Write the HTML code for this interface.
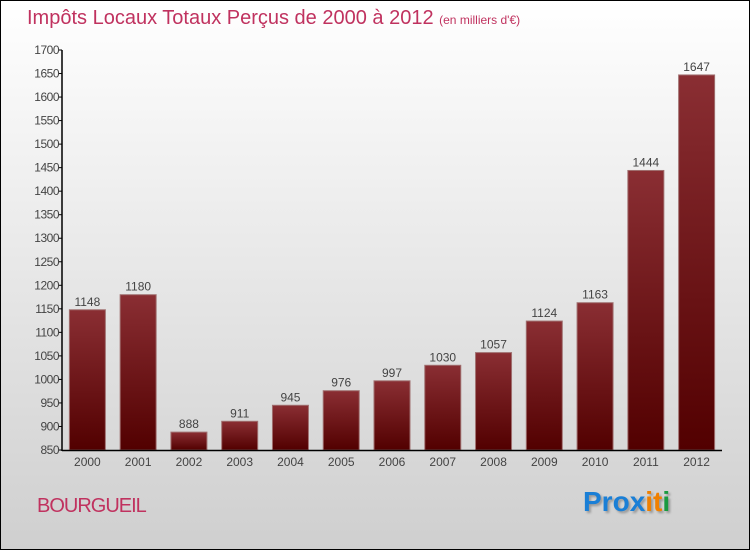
<!DOCTYPE html>
<html><head><meta charset="utf-8"><style>
body{margin:0}
#c{position:relative;width:748px;height:548px;border:1px solid #000;background:linear-gradient(#ffffff,#cfcfcf);overflow:hidden;font-family:"Liberation Sans",sans-serif}
.t{position:absolute;white-space:nowrap}
</style></head><body>
<div id="c">
<div class="t" style="left:26px;top:6px;font-size:20px;color:#c0325f">Impôts Locaux Totaux Perçus de 2000 à 2012 <span style="font-size:12px">(en milliers d'€)</span></div>
<svg id="s" width="748" height="548" style="position:absolute;left:0;top:0">
<defs><linearGradient id="g" x1="0" y1="0" x2="0" y2="1"><stop offset="0" stop-color="#8a2e33"/><stop offset="1" stop-color="#520000"/></linearGradient></defs>
</svg>
<div class="t" style="left:36px;top:494px;font-size:20px;color:#c0325f;letter-spacing:-1px">BOURGUEIL</div>
<div class="t" style="left:582px;top:485px;font-size:28px;font-weight:bold;text-shadow:2px 2px 2px #999"><span style="color:#1a7fd6">Pro</span><span style="color:#1a7fd6">x</span><span style="color:#f08000">i</span><span style="color:#f08000">t</span><span style="color:#1a9a40">i</span></div>
</div>
<script>
const categories=["2000","2001","2002","2003","2004","2005","2006","2007","2008","2009","2010","2011","2012"];
const values=[1148,1180,888,911,945,976,997,1030,1057,1124,1163,1444,1647];
const ticks=[850,900,950,1000,1050,1100,1150,1200,1250,1300,1350,1400,1450,1500,1550,1600,1650,1700];
const s=document.getElementById('s');const NS='http://www.w3.org/2000/svg';
const x0=61,x1=721,yb=449,yt=49,vmin=850,vmax=1700;
const y=v=>yb-(v-vmin)/(vmax-vmin)*(yb-yt);
const band=(x1-x0)/categories.length;
const cx=i=>x0+band*(i+0.5);
function mk(t,a){const e=document.createElementNS(NS,t);for(const k in a)e.setAttribute(k,a[k]);s.appendChild(e);return e;}
values.forEach((v,i)=>{
const r=mk('rect',{x:cx(i)-18,y:y(v),width:36,height:yb-y(v),fill:'url(#g)',stroke:'#a07070','stroke-width':1});


const t=mk('text',{x:cx(i),y:y(v)-4,'text-anchor':'middle','font-size':12,fill:'#444','font-family':'Liberation Sans, sans-serif'});t.textContent=v;


const l=mk('text',{x:cx(i),y:yb+16,'text-anchor':'middle','font-size':12,fill:'#444','font-family':'Liberation Sans, sans-serif'});l.textContent=categories[i];


});
ticks.forEach(v=>{
mk('line',{x1:x0-4,x2:x0,y1:y(v),y2:y(v),stroke:'#000'});
const t=mk('text',{x:x0-3,y:y(v)+4,'text-anchor':'end','font-size':12,fill:'#444','font-family':'Liberation Sans, sans-serif','letter-spacing':'-0.5'});t.textContent=v;


});
const ya=mk('line',{x1:x0,x2:x0,y1:yt,y2:yb+1,stroke:'#000','stroke-width':1.5});


const xa=mk('line',{x1:x0,x2:x1,y1:yb+0.5,y2:yb+0.5,stroke:'#000','stroke-width':1.5});


</script>
</body></html>
